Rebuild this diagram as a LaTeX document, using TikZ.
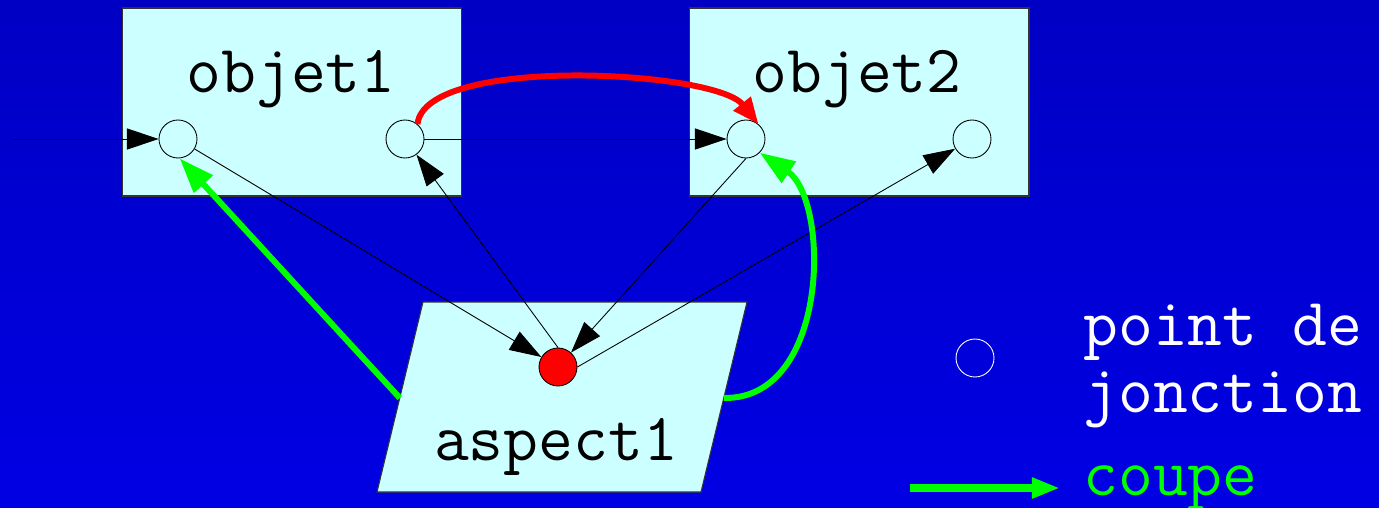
\documentclass[tikz,border=0pt]{standalone}
\usepackage{fontspec}
\usetikzlibrary{calc,arrows.meta}

\definecolor{fondhaut}{RGB}{0,0,196}
\definecolor{fondbas}{RGB}{0,0,228}
\definecolor{boite}{RGB}{204,255,255}
\definecolor{vert}{RGB}{0,255,0}

\tikzset{
  boite/.style={draw=black!80, fill=boite, line width=0.6pt, inner sep=0,
    minimum width=6.8cm, minimum height=3.76cm},
  jonction/.style={circle, draw=black, fill=boite, line width=0.5pt,
    inner sep=0, minimum size=0.76cm},
  texte/.style={font=\fontsize{38.5}{44}\selectfont\ttfamily, anchor=base,
    inner sep=0},
  fleche/.style={-{Triangle[length=18pt,width=12pt]}, line width=0.5pt},
  lien/.style={-{Triangle[length=20pt,width=14pt]}, vert, line width=3.4pt},
}

\begin{document}
\begin{tikzpicture}[x=0.02cm, y=-0.02cm]
  % fond
  \shade[top color=fondhaut, bottom color=fondbas] (0,0) rectangle (1379,507);
  \useasboundingbox (0,0) rectangle (1379,507);

  % les deux objets
  \node[boite] (o1) at (292,102) {};
  \node[boite] (o2) at (859,102) {};
  \node[texte] (t1) at (291,92) {objet1};
  \node[texte] (t2) at (857,92) {objet2};

  % l'aspect (parallelogramme)
  \coordinate (A) at (423,302);
  \coordinate (B) at (747,302);
  \coordinate (C) at (701,492);
  \coordinate (D) at (377,492);
  \filldraw[fill=boite, draw=black!80, line width=0.6pt] (A) -- (B) -- (C)
  -- (D) -- cycle;
  \node[texte] (ta) at (556,460) {aspect1};
  \coordinate (asO) at ($(A)!0.505!(D)$);
  \coordinate (asE) at ($(B)!0.505!(C)$);

  % points de jonction
  \node[jonction] (j1a) at (178,139) {};
  \node[jonction] (j1b) at (405,139) {};
  \node[jonction] (j2a) at (746,139) {};
  \node[jonction] (j2b) at (972,139) {};
  \node[jonction, fill=red] (rouge) at (558,367) {};

  % liens fins
  \coordinate (entree) at (13,139);
  \draw[fleche] (entree) -- (j1a);
  \draw[fleche] (j1b) -- (j2a);
  \draw[fleche] (j1a) -- (rouge);
  \draw[fleche] (j2a.south) -- (rouge);
  \draw[fleche] (rouge.north) -- (j1b);
  \draw[fleche] (rouge.east) -- (j2b);

  % lien rouge
  \draw[-{Triangle[length=15pt,width=12pt]}, red, line width=3.4pt]
  (j1b.50) .. controls (425,55) and (715,70) .. (j2a.50);

  % coupes
  \draw[lien] (asO) -- (j1a.-85);
  \draw[lien] (asE) .. controls (830,400) and (830,200) .. (j2a.south east);

  % legende
  \node[jonction, draw=white, fill=none] (lj) at (975,358) {};
  \node[texte, anchor=base west, text=white] (l1) at (1083,345) {point de};
  \node[texte, anchor=base west, text=white] (l2) at (1083,412) {jonction};
  \coordinate (lc1) at (910,488);
  \coordinate (lc2) at (1060,488);
  \draw[-{Triangle[length=16pt,width=11pt]}, vert, line width=4.5pt]
  (lc1) -- (lc2);
  \node[texte, anchor=base west, text=vert] (l3) at (1083,495) {coupe};
\end{tikzpicture}
\end{document}
